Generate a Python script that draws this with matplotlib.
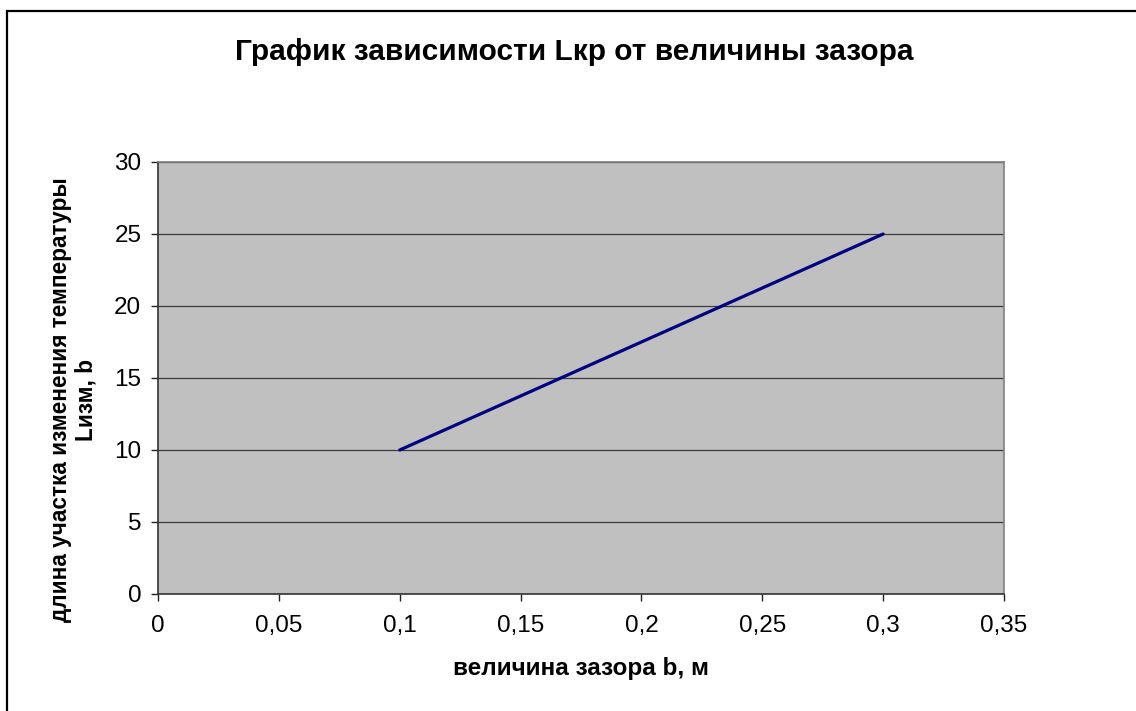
import matplotlib
matplotlib.use("Agg")
import matplotlib.pyplot as plt
from matplotlib.patches import Rectangle
from matplotlib.ticker import FuncFormatter

plt.rcParams['font.family'] = ['Liberation Sans', 'DejaVu Sans']

# Data
gap_b = [0.1, 0.2, 0.3]
length_L = [10, 17.5, 25]
x_ticks = [0, 0.05, 0.1, 0.15, 0.2, 0.25, 0.3, 0.35]
y_ticks = [0, 5, 10, 15, 20, 25, 30]

title = "График зависимости Lкр от величины зазора"
xlabel = "величина зазора b, м"
ylabel = "длина участка изменения температуры\nLизм, b"

fig = plt.figure(figsize=(11.36, 7.11), dpi=100)
fig.patch.set_facecolor('white')

# outer chart border
fig.add_artist(Rectangle((7 / 1136, -0.05), 1.2, 1 - 10.5 / 711 + 0.05,
                         transform=fig.transFigure, fill=False,
                         edgecolor='black', linewidth=1.6))

ax = fig.add_axes([158 / 1136, 117 / 711, 846 / 1136, 432 / 711])
ax.set_facecolor('#C0C0C0')
ax.plot(gap_b, length_L, color='#000080', linewidth=2.3, solid_capstyle='round', zorder=3)

ax.set_xlim(0, 0.35)
ax.set_ylim(0, 30)
ax.set_xticks(x_ticks)
ax.set_yticks(y_ticks)
fmt = FuncFormatter(lambda v, p: ('%g' % round(v, 2)).replace('.', ','))
ax.xaxis.set_major_formatter(fmt)
ax.yaxis.set_major_formatter(fmt)
ax.grid(axis='y', color='#3c3c3c', linewidth=0.9)
ax.set_axisbelow(True)
for s in ['left', 'bottom']:
    ax.spines[s].set_color('#333333')
    ax.spines[s].set_linewidth(1.2)
for s in ['top', 'right']:
    ax.spines[s].set_color('#808080')
    ax.spines[s].set_linewidth(1.2)
ax.tick_params(axis='both', direction='out', length=5, width=1, color='#222222',
               labelsize=17.5)
ax.tick_params(axis='x', pad=10)
ax.tick_params(axis='y', pad=7)

fig.text(581 / 1136, 1 - 668 / 711, xlabel, fontsize=17.5, fontweight='bold',
         ha='center', va='center')
fig.text(73 / 1136, 1 - 400 / 711, ylabel, fontsize=16.3, fontweight='bold',
         ha='center', va='center', rotation=90, linespacing=1.15,
         multialignment='center')
fig.text(574 / 1136, 1 - 52 / 711, title, fontsize=21.5, fontweight='bold',
         ha='center', va='center')

fig.savefig('out.png', dpi=100, facecolor='white')
